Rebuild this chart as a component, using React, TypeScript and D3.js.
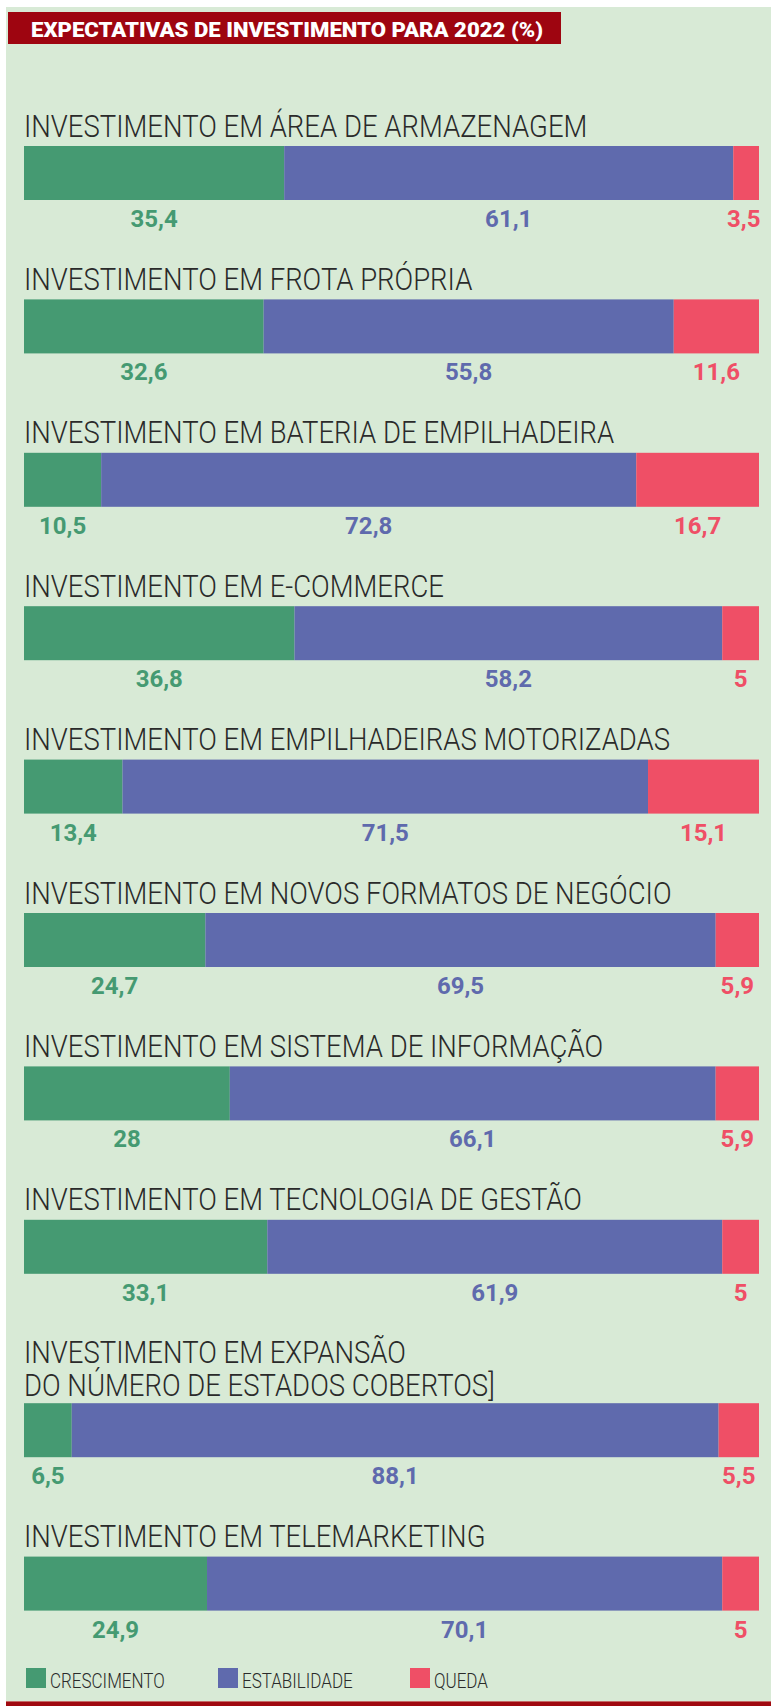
import React from "react";
import * as d3 from "d3";

const categories = [
  "INVESTIMENTO EM ÁREA DE ARMAZENAGEM",
  "INVESTIMENTO EM FROTA PRÓPRIA",
  "INVESTIMENTO EM BATERIA DE EMPILHADEIRA",
  "INVESTIMENTO EM E-COMMERCE",
  "INVESTIMENTO EM EMPILHADEIRAS MOTORIZADAS",
  "INVESTIMENTO EM NOVOS FORMATOS DE NEGÓCIO",
  "INVESTIMENTO EM SISTEMA DE INFORMAÇÃO",
  "INVESTIMENTO EM TECNOLOGIA DE GESTÃO",
  "INVESTIMENTO EM EXPANSÃO\nDO NÚMERO DE ESTADOS COBERTOS]",
  "INVESTIMENTO EM TELEMARKETING",
];
const crescimento = [35.4, 32.6, 10.5, 36.8, 13.4, 24.7, 28, 33.1, 6.5, 24.9];
const estabilidade = [61.1, 55.8, 72.8, 58.2, 71.5, 69.5, 66.1, 61.9, 88.1, 70.1];
const queda = [3.5, 11.6, 16.7, 5, 15.1, 5.9, 5.9, 5, 5.5, 5];
const seriesNames = ["CRESCIMENTO", "ESTABILIDADE", "QUEDA"];
const seriesKeys = ["crescimento", "estabilidade", "queda"];
const colors = ["#459a72", "#5f6aad", "#ef4f66"];
const chartTitle = "EXPECTATIVAS DE INVESTIMENTO PARA 2022 (%)";

const W = 771;
const H = 1706;
const BAR_X0 = 24;
const BAR_X1 = 759;
const FIRST_BAR = 146;
const STEP = 153.4;
const BAR_H = 54;
const LINE_H = 32.5;

const fmt = (v: number) => String(v).replace(".", ",");
const labelWidth = (s: string) =>
  s.split("").reduce((a, c) => a + (c === "," ? 5.6 : 13.5), 0);

export default function App() {
  const rows = categories.map((c, i) => ({
    name: c,
    crescimento: crescimento[i],
    estabilidade: estabilidade[i],
    queda: queda[i],
  }));
  const stack = d3.stack<any>().keys(seriesKeys).offset(d3.stackOffsetExpand);
  const stacked = stack(rows);
  const x = d3.scaleLinear().domain([0, 1]).range([BAR_X0, BAR_X1]);

  let extra = 0;
  const barTops: number[] = [];
  categories.forEach((c, i) => {
    const lines = c.split("\n").length;
    extra += (lines - 1) * 30;
    barTops.push(FIRST_BAR + i * STEP + extra);
  });

  const titleFont = "Roboto, 'Open Sans', sans-serif";
  const TITLE_SCALE = 0.86;
  const LEGEND_SCALE = 0.81;

  return (
    <svg
      width={W}
      height={H}
      viewBox={`0 0 ${W} ${H}`}
      style={{ position: "absolute", left: 0, top: 0, display: "block" }}
    >
      <rect x={0} y={0} width={W} height={H} fill="#ffffff" />
      <rect x={6} y={7} width={W - 6} height={H - 7} fill="#d8ead6" />
      <rect x={8} y={12} width={553} height={32} fill="#9e0510" />
      <text
        x={31}
        y={37}
        fill="#ffffff"
        fontFamily={titleFont}
        fontWeight={900}
        fontSize={19.5}
        textLength={512}
        lengthAdjust="spacingAndGlyphs"
      >
        {chartTitle}
      </text>

      {rows.map((r, i) => {
        const top = barTops[i];
        const lines = r.name.split("\n");
        const base = lines.length > 1 ? top - 7.5 : top - 9.5;
        return (
          <g key={i}>
            {lines.map((ln, li) => (
              <text
                key={li}
                transform={`translate(${BAR_X0},${base - (lines.length - 1 - li) * LINE_H}) scale(${TITLE_SCALE},1)`}
                fill="#2a2a2a"
                fontFamily={titleFont}
                fontWeight={300}
                fontSize={32}
              >
                {ln}
              </text>
            ))}
            {stacked.map((s, si) => {
              const d = s[i];
              const x0 = x(d[0]);
              const x1 = x(d[1]);
              return (
                <rect
                  key={si}
                  x={x0}
                  y={top}
                  width={Math.max(0, x1 - x0)}
                  height={BAR_H}
                  fill={colors[si]}
                />
              );
            })}
            {stacked.map((s, si) => {
              const d = s[i];
              const x0 = x(d[0]);
              const x1 = x(d[1]);
              const label = fmt((r as any)[seriesKeys[si]]);
              const w = labelWidth(label);
              let cx = (x0 + x1) / 2;
              if (cx + w / 2 > BAR_X1 + 1) cx = BAR_X1 + 1 - w / 2;
              if (cx - w / 2 < BAR_X0 + 6) cx = BAR_X0 + 6 + w / 2;
              return (
                <text
                  key={"l" + si}
                  x={cx}
                  y={top + 81}
                  textAnchor="middle"
                  fill={colors[si]}
                  fontFamily={titleFont}
                  fontWeight={700}
                  fontSize={24}
                >
                  {label}
                </text>
              );
            })}
          </g>
        );
      })}

      {seriesNames.map((n, i) => {
        const lx = [26, 218, 410][i];
        return (
          <g key={n}>
            <rect x={lx} y={1668} width={20} height={20} fill={colors[i]} />
            <text
              transform={`translate(${lx + 24},1688) scale(${LEGEND_SCALE},1)`}
              fill="#2a2a2a"
              fontFamily={titleFont}
              fontWeight={300}
              fontSize={21}
            >
              {n}
            </text>
          </g>
        );
      })}

      <rect x={6} y={1702} width={W - 6} height={4} fill="#a00a10" />
      <rect x={6} y={1701} width={W - 6} height={1} fill="#c46a66" />
    </svg>
  );
}
